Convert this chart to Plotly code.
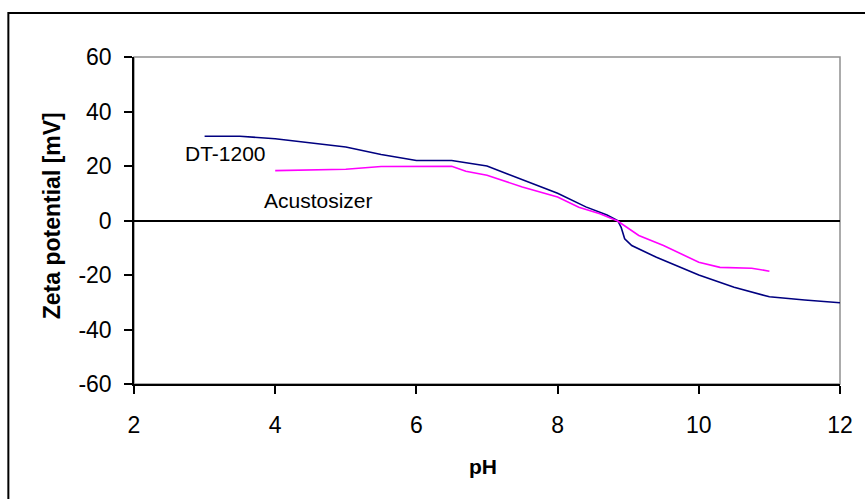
import plotly.graph_objects as go

# Data
dt_ph = [3, 3.5, 4, 4.5, 5, 5.5, 6, 6.5, 7, 7.3, 7.7, 8, 8.4, 8.7, 8.85, 8.9, 8.95, 9.05, 9.4, 10, 10.5, 11, 11.5, 12]
dt_zeta = [30.9, 30.9, 30, 28.5, 27, 24.2, 22, 22, 20, 17, 13, 10, 5, 2, 0, -2.5, -6.7, -9.2, -13.5, -20, -24.5, -28, -29.2, -30.2]

ac_ph = [4, 5, 5.5, 6, 6.5, 6.7, 7, 7.5, 8, 8.3, 8.6, 8.85, 9.15, 9.5, 10, 10.3, 10.75, 11]
ac_zeta = [18.3, 18.8, 19.8, 19.9, 19.9, 18.1, 16.6, 12.3, 8.6, 4.9, 2.5, -0.2, -5.5, -9.2, -15.3, -17.2, -17.5, -18.6]

x_ticks = [2, 4, 6, 8, 10, 12]
y_ticks = [-60, -40, -20, 0, 20, 40, 60]
y_tick_text = ["-60", "-40", "-20", "0", "20", "40", "60"]

FONT = "Liberation Sans, Arial, sans-serif"

fig = go.Figure()
fig.add_trace(go.Scatter(x=dt_ph, y=dt_zeta, mode="lines", name="DT-1200",
                         line=dict(color="#000080", width=1.6)))
fig.add_trace(go.Scatter(x=ac_ph, y=ac_zeta, mode="lines", name="Acustosizer",
                         line=dict(color="#FF00FF", width=1.6)))

L, R, T, B = 134, 23, 57, 115
W, H = 865, 499
pw, ph = W - L - R, H - T - B

def px2paper_x(px):
    return (px - L) / pw

def px2paper_y(py):
    return (H - B - py) / ph

fig.update_layout(
    width=W, height=H,
    margin=dict(l=L, r=R, t=T, b=B, pad=0),
    paper_bgcolor="white", plot_bgcolor="white",
    showlegend=False,
    font=dict(family=FONT, color="black", size=20),
    xaxis=dict(range=[2, 12], tickvals=x_ticks, ticks="outside", ticklen=8, tickwidth=1.5,
               tickcolor="black", showline=True, linecolor="black", linewidth=1.5,
               showgrid=False, zeroline=False, tickfont=dict(size=23, family=FONT),
               ticklabelstandoff=12),
    yaxis=dict(range=[-60, 60], tickvals=y_ticks, ticktext=y_tick_text, ticks="outside",
               ticklen=8, tickwidth=1.5,
               tickcolor="black", showline=True, linecolor="black", linewidth=1.5,
               showgrid=False, zeroline=True, zerolinecolor="black", zerolinewidth=1.5,
               tickfont=dict(size=23, family=FONT), ticklabelstandoff=8),
    shapes=[
        dict(type="rect", xref="paper", yref="paper", x0=0, x1=1, y0=0, y1=1,
             line=dict(color="#909090", width=1.5), layer="below"),
        dict(type="rect", xref="paper", yref="paper",
             x0=px2paper_x(8), x1=px2paper_x(880), y0=px2paper_y(520), y1=px2paper_y(13),
             line=dict(color="black", width=2)),
    ],
    annotations=[
        dict(text="DT-1200", x=3.3, y=24.6, xref="x", yref="y", showarrow=False,
             font=dict(size=21, family=FONT)),
        dict(text="Acustosizer", x=4.61, y=7.4, xref="x", yref="y", showarrow=False,
             font=dict(size=21, family=FONT)),
        dict(text="<b>pH</b>", x=px2paper_x(484), y=px2paper_y(467), xref="paper", yref="paper",
             xanchor="center", yanchor="middle",
             showarrow=False, font=dict(size=21, family=FONT)),
        dict(text="<b>Zeta potential [mV]</b>", x=px2paper_x(52), y=px2paper_y(216),
             xref="paper", yref="paper", showarrow=False, textangle=-90,
             xanchor="center", yanchor="middle",
             font=dict(size=23, family=FONT)),
    ],
)

fig.write_html("out.html")
